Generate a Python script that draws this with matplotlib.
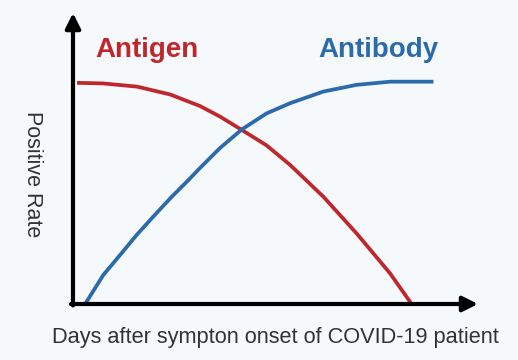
import matplotlib.pyplot as plt

plt.rcParams['font.family'] = ['Liberation Sans', 'DejaVu Sans']

# values (days 0..10, positive rate 0..100)
antigen_x = [0.10, 0.74, 1.58, 2.40, 3.14, 3.63, 4.17, 4.78, 5.36, 6.18, 7.00, 7.83, 8.36]
antigen_y = [76.0, 75.8, 74.7, 72.0, 68.0, 64.4, 59.8, 54.5, 47.8, 36.9, 24.3, 10.5, 0.0]
antibody_x = [0.30, 0.75, 1.16, 1.57, 1.98, 2.40, 2.85, 3.14, 3.63, 4.17, 4.78, 5.36,
              6.18, 7.00, 7.83, 8.90]
antibody_y = [0.0, 10.0, 16.8, 23.7, 30.0, 36.3, 42.6, 46.8, 53.6, 60.0, 65.5, 69.0,
              73.0, 75.3, 76.4, 76.4]

red = '#c0272d'
blue = '#2b6aab'
bg = '#f5f9fc'

fig = plt.figure(figsize=(5.18, 3.60), dpi=100, facecolor=bg)
ax = fig.add_axes([73 / 518, 56 / 360, 405 / 518, 291 / 360])
ax.set_facecolor(bg)
ax.plot(antigen_x, antigen_y, color=red, lw=2.7, solid_capstyle='butt', solid_joinstyle='round')
ax.plot(antibody_x, antibody_y, color=blue, lw=2.7, solid_capstyle='butt', solid_joinstyle='round')
ax.set_xlim(0, 10)
ax.set_ylim(0, 100)
for s in ax.spines.values():
    s.set_visible(False)
ax.set_xticks([])
ax.set_yticks([])

# arrow axes
arrow = dict(arrowstyle='-|>,head_length=0.9,head_width=0.45', color='black', lw=3,
             shrinkA=0, shrinkB=0)
ax.annotate('', xy=(1.0, 0), xytext=(-0.005, 0), xycoords='axes fraction', arrowprops=arrow)
ax.annotate('', xy=(0, 1.0), xytext=(0, -0.005), xycoords='axes fraction', arrowprops=arrow)

fig.text(147 / 518, 1 - 50 / 360, 'Antigen', color=red, fontsize=20, fontweight='bold',
         ha='center', va='center')
fig.text(378 / 518, 1 - 50 / 360, 'Antibody', color=blue, fontsize=20, fontweight='bold',
         ha='center', va='center')
fig.text(275 / 518, 1 - 338 / 360, 'Days after sympton onset of COVID-19 patient',
         color='#333333', fontsize=15.7, ha='center', va='center')
fig.text(32 / 518, 1 - 174 / 360, 'Positive Rate', color='#333333', fontsize=15.5,
         rotation=-90, ha='center', va='center')

fig.savefig('out.png', dpi=100, facecolor=bg)
